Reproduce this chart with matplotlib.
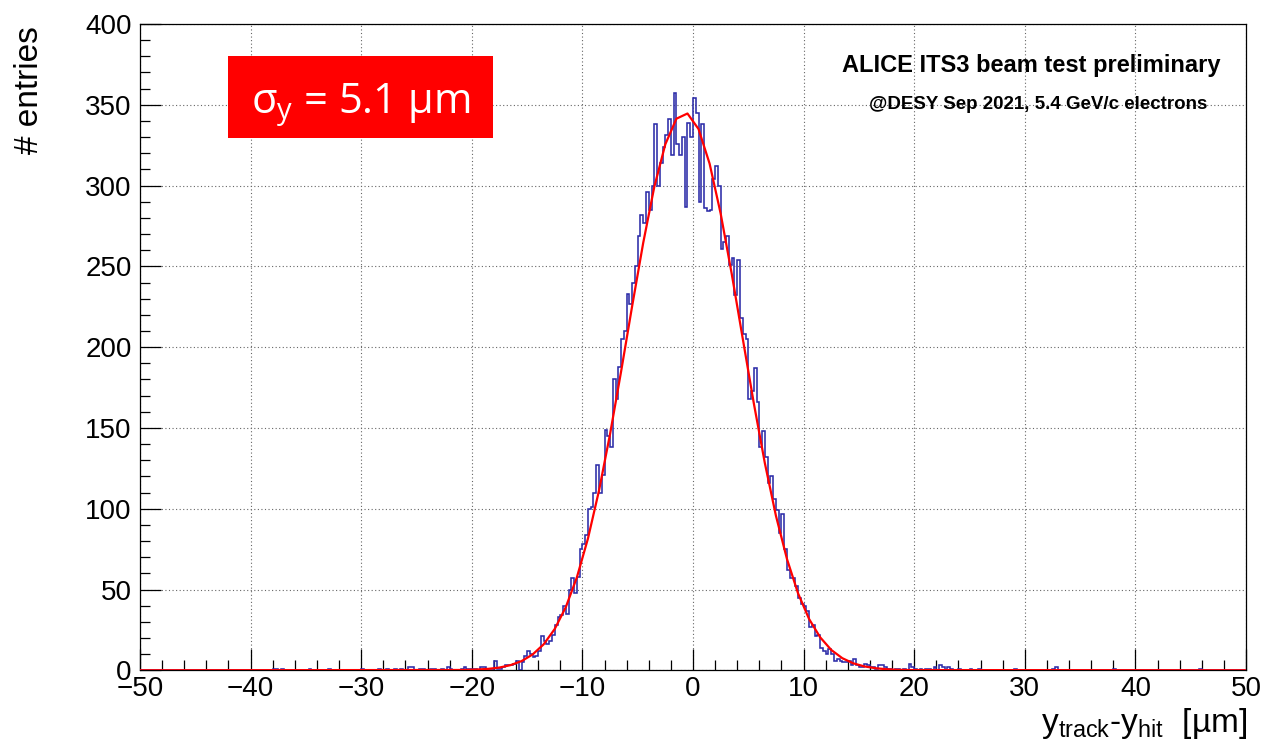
import numpy as np
import matplotlib
matplotlib.use("Agg")
import matplotlib.pyplot as plt
from matplotlib.patches import Rectangle
from matplotlib.ticker import MultipleLocator

plt.rcParams['font.family'] = ['Liberation Sans', 'DejaVu Sans']
plt.rcParams['mathtext.fontset'] = 'custom'
plt.rcParams['mathtext.rm'] = 'Liberation Sans'
plt.rcParams['mathtext.it'] = 'Liberation Sans'

# histogram: 0.25 um bins from -50 to 50, counts
bin_lo, bin_hi, n_bins = -50., 50., 400
core_start = -20.0   # first bin of the central block
core_counts = [
	1, 1, 0, 2, 2, 0, 0, 0, 6, 1, 1, 2, 3, 3, 3, 4, 6, 0, 5, 9,
	12, 10, 8, 9, 12, 21, 18, 16, 18, 22, 28, 33, 34, 40, 35, 50, 57, 48, 58, 75,
	78, 84, 100, 101, 110, 127, 110, 121, 149, 145, 138, 180, 168, 188, 205, 210, 233, 227, 240, 250,
	269, 282, 277, 296, 285, 300, 338, 300, 314, 324, 331, 341, 319, 357, 326, 319, 330, 287, 339, 330,
	354, 345, 290, 338, 286, 284, 285, 304, 312, 300, 261, 265, 269, 251, 255,
	232, 254, 218, 208, 205,
	168, 173, 187, 166, 138, 148, 132, 116, 120, 106, 99, 85, 97,
	75, 62, 57, 57, 52, 45, 41,
	40, 37, 27, 28, 21, 22, 14, 12, 10, 13, 10, 6, 7, 6, 5, 5, 6, 3, 7, 3,
	2, 2, 4, 3, 2, 2, 1, 3, 3, 2, 1, 1, 0, 1, 1, 0, 1, 0, 4, 2]

# isolated entries in the tails (bin low edge, count)
tail_x = [-38.0, -37.75, -37.25, -34.75, -33.0, -30.0, -28.5, -27.75, -27.0, -26.5,
	-25.75, -25.5, -24.75, -24.5, -23.75, -23.5, -22.75, -22.25, -22.0, -21.0,
	-20.75, -20.5, -20.25,
	20.0, 20.5, 21.0, 21.25, 21.75, 22.25, 22.5, 23.0, 23.25, 24.0, 25.0, 25.75,
	29.0, 32.5, 32.75, 38.0, 45.75]
tail_n = [1, 1, 1, 1, 1, 1, 1, 1, 1, 1,
	2, 2, 1, 1, 1, 1, 1, 2, 1, 1,
	2, 1, 1,
	1, 1, 1, 1, 2, 3, 2, 2, 1, 1, 1, 1,
	1, 1, 2, 1, 1]

# gaussian fit curve, points read at 1 um steps
fit_x = [-50., -20.5, -19.5, -18.5, -17.5, -16.5, -15.5, -14.5, -13.5, -12.5, -11.5,
	-10.5, -9.5, -8.5, -7.5, -6.5, -5.5, -4.5, -3.5, -2.5, -1.5, -0.5,
	0.5, 1.5, 2.5, 3.5, 4.5, 5.5, 6.5, 7.5, 8.5, 9.5,
	10.5, 11.5, 12.5, 13.5, 14.5, 15.5, 16.5, 17.5, 18.5, 19.5, 50.]
fit_y = [0., 0.2, 0.5, 0.9, 1.7, 3.2, 5.7, 9.8, 16.1, 25.6, 39.1,
	57.5, 81.5, 111.2, 146.2, 185.0, 225.5, 264.6, 299.2, 325.6, 341.4, 344.6,
	335.0, 313.6, 282.7, 245.4, 205.2, 165.2, 128.1, 95.6, 68.8, 47.6,
	31.7, 20.4, 12.6, 7.5, 4.3, 2.4, 1.3, 0.65, 0.3, 0.15, 0.]

xticks = [-50, -40, -30, -20, -10, 0, 10, 20, 30, 40, 50]

edges = np.linspace(bin_lo, bin_hi, n_bins + 1)
counts = np.zeros(n_bins)
i0 = int(round((core_start - bin_lo) / 0.25))
counts[i0:i0 + len(core_counts)] = core_counts
for x, n in zip(tail_x, tail_n):
	counts[int(round((x - bin_lo) / 0.25))] = n

W, H = 1269, 747
fig = plt.figure(figsize=(W / 100., H / 100.), dpi=100)
ax = fig.add_axes([140. / W, 1 - 670.3 / H, 1106. / W, 646.3 / H])

ax.stairs(counts, edges, color='#2c2ca8', lw=1.15, zorder=3)
ax.plot(fit_x, fit_y, color='#ff0000', lw=1.6, zorder=4)

ax.set_xticks(xticks)
ax.set_xticklabels([('\u2212%d' % -v) if v < 0 else '%d' % v for v in xticks])
ax.xaxis.set_minor_locator(MultipleLocator(2))
ax.yaxis.set_major_locator(MultipleLocator(50))
ax.yaxis.set_minor_locator(MultipleLocator(10))
ax.set_xlim(-50, 50)
ax.set_ylim(0, 400)
ax.grid(True, which='major', color='#666666', ls=(0, (1, 2.2)), lw=0.8)
ax.tick_params(which='major', direction='in', length=15, width=0.9, labelsize=20, pad=4)
ax.tick_params(which='minor', direction='in', length=7.5, width=0.9)
ax.tick_params(axis='y', pad=6)
for s in ax.spines.values():
	s.set_linewidth(0.9)

fig.text(30. / W, 1 - 26. / H, '# entries', rotation=90, ha='center', va='top', fontsize=24)
fig.text(1247. / W, 1 - 732. / H, '$\\mathregular{y_{track}}$-$\\mathregular{y_{hit}}$  [\u00b5m]',
	ha='right', va='baseline', fontsize=24)

fig.text(1031. / W, 1 - 72. / H, 'ALICE ITS3 beam test preliminary', ha='center', va='baseline',
	fontsize=17, fontweight='bold')
fig.text(1038. / W, 1 - 109. / H, '@DESY Sep 2021, 5.4 GeV/c electrons', ha='center', va='baseline',
	fontsize=13.5, fontweight='bold')

# sigma box pasted on top of the canvas
fig.patches.append(Rectangle((228. / W, 1 - 138. / H), 265. / W, 82. / H, transform=fig.transFigure,
	facecolor='#ff0000', edgecolor='none', zorder=10))
fig.text(361. / W, 1 - 113. / H, '$\\mathregular{\\sigma_y}$ = 5.1 \u00b5m', ha='center', va='baseline',
	fontsize=30, color='white', family=['Open Sans', 'DejaVu Sans'], zorder=11)

fig.savefig('out.png', dpi=100)
